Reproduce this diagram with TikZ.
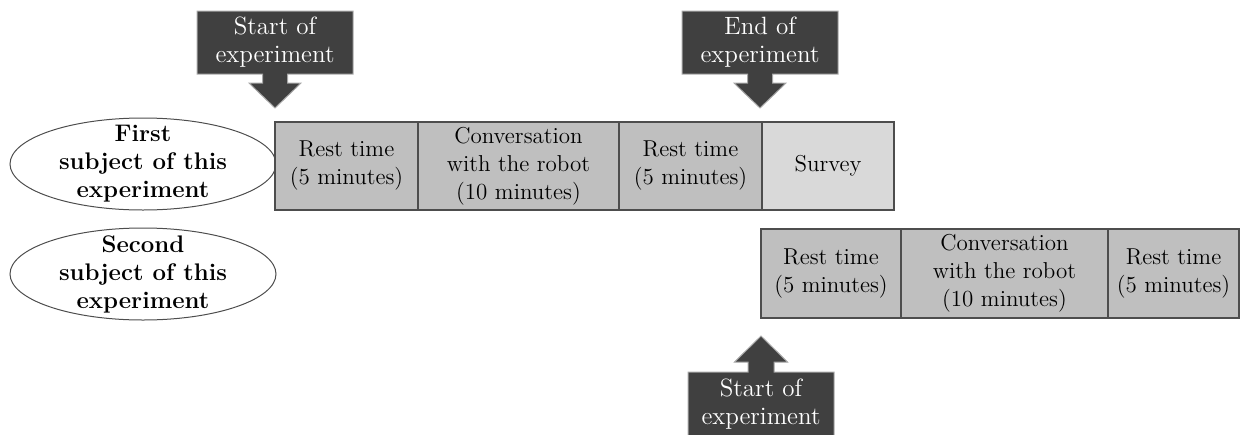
\documentclass[tikz,border=0pt]{standalone}
\usetikzlibrary{positioning,shapes.geometric,calc}
\definecolor{phasegray}{HTML}{BFBFBF}
\definecolor{surveygray}{HTML}{D9D9D9}
\definecolor{calloutgray}{HTML}{404040}
\definecolor{edgegray}{HTML}{4D4D4D}

% pointer below / above a callout box
\newcommand{\pointerdown}[1]{%
  \fill[calloutgray] ($(#1.south)+(-12.5,-1)$) -- ($(#1.south)+(-12.5,9)$) -- ($(#1.south)+(-26,9)$)
    -- ($(#1.south)+(0,34)$) -- ($(#1.south)+(26,9)$) -- ($(#1.south)+(12.5,9)$) -- ($(#1.south)+(12.5,-1)$) -- cycle;
  \draw[outline] (#1.south west) -- (#1.north west) -- (#1.north east) -- (#1.south east)
    -- ($(#1.south)+(12.5,0)$) -- ($(#1.south)+(12.5,9)$) -- ($(#1.south)+(26,9)$) -- ($(#1.south)+(0,34)$)
    -- ($(#1.south)+(-26,9)$) -- ($(#1.south)+(-12.5,9)$) -- ($(#1.south)+(-12.5,0)$) -- cycle;}
\newcommand{\pointerup}[1]{%
  \fill[calloutgray] ($(#1.north)+(-13,1)$) -- ($(#1.north)+(-13,-10)$) -- ($(#1.north)+(-26.5,-10)$)
    -- ($(#1.north)+(0,-36)$) -- ($(#1.north)+(26.5,-10)$) -- ($(#1.north)+(13,-10)$) -- ($(#1.north)+(13,1)$) -- cycle;
  \draw[outline] (#1.north west) -- (#1.south west) -- (#1.south east) -- (#1.north east)
    -- ($(#1.north)+(13,0)$) -- ($(#1.north)+(13,-10)$) -- ($(#1.north)+(26.5,-10)$) -- ($(#1.north)+(0,-36)$)
    -- ($(#1.north)+(-26.5,-10)$) -- ($(#1.north)+(-13,-10)$) -- ($(#1.north)+(-13,0)$) -- cycle;}

\begin{document}
\begin{tikzpicture}[x=0.5pt,y=-0.5pt,
    phase/.style={draw=edgegray,fill=phasegray,line width=0.6pt,inner sep=0pt,outer sep=0pt,
      minimum height=44pt,align=center,font=\fontsize{11.5}{14}\selectfont},
    subject/.style={ellipse,draw=edgegray,line width=0.5pt,inner xsep=0pt,inner ysep=-8pt,
      minimum width=133pt,minimum height=46pt,align=center,font=\fontsize{12}{14}\selectfont\bfseries},
    calloutbox/.style={fill=calloutgray,text=white,inner sep=0pt,outer sep=0pt,minimum width=78pt,
      minimum height=31.5pt,align=center,font=\fontsize{12.5}{14}\selectfont},
    outline/.style={draw=black!35,line width=0.5pt}]
  \useasboundingbox (0,0) rectangle (1248,434);

  % subjects
  \node[subject] (first) at (143,164) {First\\subject of this\\experiment};
  \node[subject] (second) at (143,274) {Second\\subject of this\\experiment};

  % first subject
  \node[phase,minimum width=71.5pt,anchor=west] (rest1) at (275,166) {Rest time\\(5 minutes)};
  \node[phase,minimum width=100.5pt,right=0pt of rest1] (talk1) {Conversation\\with the robot\\(10 minutes)};
  \node[phase,minimum width=71.5pt,right=0pt of talk1] (rest2) {Rest time\\(5 minutes)};
  \node[phase,fill=surveygray,minimum width=66pt,right=0pt of rest2] (survey) {Survey};

  % second subject
  \node[phase,minimum width=70pt,minimum height=44.5pt,anchor=west] (rest3) at (761,273.5) {Rest time\\(5 minutes)};
  \node[phase,minimum width=103.5pt,minimum height=44.5pt,right=0pt of rest3] (talk2) {Conversation\\with the robot\\(10 minutes)};
  \node[phase,minimum width=65.5pt,minimum height=44.5pt,right=0pt of talk2] (rest4) {Rest time\\(5 minutes)};

  % callouts
  \node[calloutbox] (start1) at (275,42.5) {Start of\\experiment};
  \pointerdown{start1}
  \node[calloutbox] (end1) at (760,42.5) {End of\\experiment};
  \pointerdown{end1}
  \node[calloutbox,minimum width=73pt,minimum height=32pt] (start2) at (761,404) {Start of\\experiment};
  \pointerup{start2}
\end{tikzpicture}
\end{document}
